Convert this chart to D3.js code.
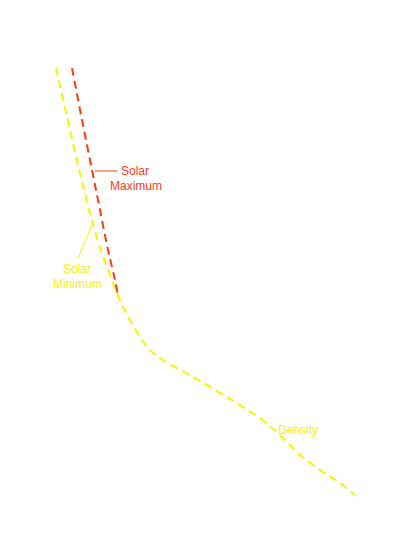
<!DOCTYPE html>
<html><head><meta charset="utf-8">
<script src="https://cdn.jsdelivr.net/npm/d3@7"></script>
<style>body{margin:0;background:#fff}</style>
</head><body>
<script>
// profile points (horizontal, vertical)
const minX = [56, 70, 84, 96, 110, 120, 130, 142, 152, 166, 190, 215, 240, 265, 285, 300, 320, 340, 355];
const minY = [68, 130, 190, 235, 275, 300, 320, 340, 352, 362, 375, 390, 405, 422, 440, 455, 470, 483, 495];
const maxX = [72, 82, 92, 100, 108, 115, 118];
const maxY = [68, 120, 170, 210, 250, 280, 296];

const width = 413, height = 550;
const x = d3.scaleLinear().domain([0, 413]).range([0, width]);
const y = d3.scaleLinear().domain([0, 550]).range([0, height]);

const svg = d3.select("body").append("svg")
    .attr("width", width).attr("height", height);

const line = d3.line().x(d => x(d[0])).y(d => y(d[1])).curve(d3.curveCatmullRom);

svg.append("path")
    .attr("d", line(minX.map((v, i) => [v, minY[i]])))
    .attr("fill", "none").attr("stroke", "#f8f400").attr("stroke-width", 2)
    .attr("stroke-dasharray", "8,5");

svg.append("path")
    .attr("d", line(maxX.map((v, i) => [v, maxY[i]])))
    .attr("fill", "none").attr("stroke", "#ff3a10").attr("stroke-width", 2)
    .attr("stroke-dasharray", "8,5");

// leader lines
svg.append("line").attr("x1", 95).attr("y1", 171).attr("x2", 117).attr("y2", 171)
    .attr("stroke", "#ff3a10").attr("stroke-width", 1);
svg.append("line").attr("x1", 92).attr("y1", 225).attr("x2", 78).attr("y2", 258)
    .attr("stroke", "#f8f400").attr("stroke-width", 1);

const font = "Helvetica, 'Liberation Sans', Arial, sans-serif";
function label(t, px, py, c) {
  svg.append("text").attr("x", px).attr("y", py).attr("fill", c)
     .style("font", "12px " + font).text(t);
}
label("Solar", 121, 175, "#ff3a10");
label("Maximum", 110, 190, "#ff3a10");
label("Solar", 63, 273, "#f8f400");
label("Minimum", 53, 288, "#f8f400");
label("Density", 278, 434, "#f8f400");
</script>
</body></html>
